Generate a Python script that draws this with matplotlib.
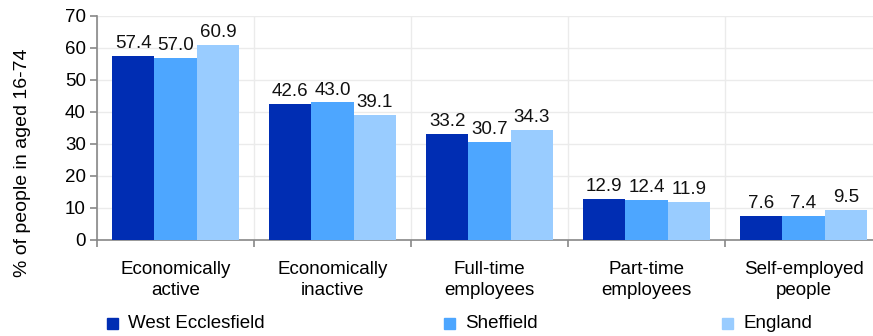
import matplotlib
matplotlib.use("Agg")
import matplotlib.pyplot as plt
import numpy as np

categories = ["Economically\nactive", "Economically\ninactive", "Full-time\nemployees",
              "Part-time\nemployees", "Self-employed\npeople"]
series_names = ["West Ecclesfield", "Sheffield", "England"]
west_ecclesfield = [57.4, 42.6, 33.2, 12.9, 7.6]
sheffield = [57.0, 43.0, 30.7, 12.4, 7.4]
england = [60.9, 39.1, 34.3, 11.9, 9.5]
colors = ["#002DB3", "#4DA6FF", "#99CCFF"]

FS = 13.5
plt.rcParams['font.family'] = ['Liberation Sans', 'DejaVu Sans']
fig = plt.figure(figsize=(8.73, 3.36), dpi=100)
ax = fig.add_axes([97/873, 1-240/336, 785/873, 224/336])

x = np.arange(len(categories))
bw = 0.27
series = [west_ecclesfield, sheffield, england]
for i, (vals, c) in enumerate(zip(series, colors)):
    pos = x + (i - 1) * bw
    ax.bar(pos, vals, width=bw, color=c, zorder=3, label=series_names[i])
    for p, v in zip(pos, vals):
        ax.text(p, v + 1.2, f"{v:.1f}", ha="center", va="bottom", fontsize=FS, color="#111111")

ax.set_xlim(-0.5, len(categories) - 0.5)
ax.set_ylim(0, 70)
ax.set_yticks(range(0, 71, 10))
ax.set_xticks(np.arange(-0.5, len(categories), 1.0))
ax.set_xticklabels([])
ax.set_xticks(x, minor=True)
ax.set_xticklabels(categories, minor=True, fontsize=FS, linespacing=1.3)
ax.tick_params(axis='x', which='minor', length=0, pad=15)
ax.tick_params(axis='x', which='major', length=5, color="#888888", width=1.2)
ax.tick_params(axis='y', length=5, color="#888888", width=1.2, labelsize=FS, pad=3)
ax.grid(True, which='major', color="#EBEBEB", linewidth=1, zorder=0)
for s in ["top", "right"]:
    ax.spines[s].set_visible(False)
for s in ["left", "bottom"]:
    ax.spines[s].set_color("#888888")
    ax.spines[s].set_linewidth(1.2)
fig.text(23/873, 1-163/336, "% of people in aged 16-74", rotation=90,
         ha="center", va="center", fontsize=14)

leg_x = [112/873, 449/873, 727/873]
for hx, name, c in zip(leg_x, series_names, colors):
    fig.patches.append(matplotlib.patches.Rectangle((hx - 5/873, 1-329/336), 11/873, 11/336,
                                                    transform=fig.transFigure, color=c, figure=fig))
    fig.text(hx + 16/873, 1-324/336, name, ha="left", va="center", fontsize=FS)

fig.savefig("out.png", dpi=100)
